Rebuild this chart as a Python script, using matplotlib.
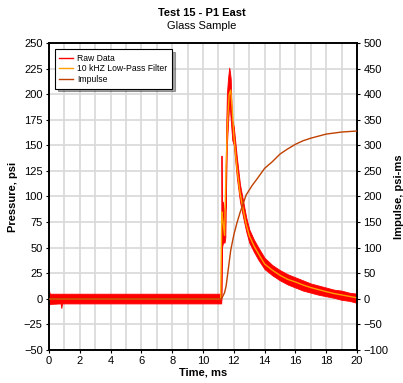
import numpy as np
import matplotlib
matplotlib.use('Agg')
import matplotlib.pyplot as plt
from matplotlib.lines import Line2D

plt.rcParams['font.family'] = ['Liberation Sans', 'DejaVu Sans']

# Filtro pasa-bajos 10 kHz (psi)
filt_t = [0, 11.15, 11.22, 11.3, 11.4, 11.5, 11.6, 11.7, 11.8, 11.9, 12.0, 12.2, 12.4, 12.6,
          12.8, 13.0, 13.3, 13.6, 14.0, 14.5, 15.0, 15.5, 16.0, 16.5, 17.0, 17.5, 18.0,
          18.5, 19.0, 19.5, 20.0]
filt_p = [0, 0, 85, 75, 62, 130, 175, 200, 204, 185, 160, 128, 104, 88,
          73, 62, 52, 44, 34, 28, 23, 19, 16.5, 13.5, 11, 9, 7,
          5.2, 3.8, 2.4, 1]

# Datos crudos: envolvente superior e inferior (psi)
raw_t = [0, 0.05, 0.75, 0.8, 0.85, 11.15, 11.18, 11.2, 11.23, 11.3, 11.4, 11.45, 11.5,
         11.55, 11.62, 11.7, 11.75, 11.8, 11.85, 11.9, 12.0, 12.2, 12.4, 12.6, 12.8, 13.0,
         13.3, 13.6, 14.0, 14.5, 15.0, 15.5, 16.0, 16.5, 17.0, 17.5, 18.0, 18.5, 19.0,
         19.5, 20.0]
raw_hi = [8, 5, 5, 5, 5, 5, 5, 140, 70, 95, 80, 90, 165,
          200, 215, 226, 222, 215, 190, 175, 168, 138, 112, 96, 80, 68,
          58, 50, 40, 33, 28, 24, 21, 18, 15, 13, 11, 9, 8,
          6, 5]
raw_lo = [-6, -5, -4.5, -9, -4.5, -4.5, -4.5, 0, 50, 55, 55, 60, 110,
          150, 170, 190, 185, 175, 165, 155, 150, 118, 95, 80, 66, 55,
          46, 38, 29, 23, 18, 14, 11, 8, 6, 4, 2.5, 1, -1,
          -2, -4]

# Impulso (psi-ms)
imp_t = [0, 11.2, 11.4, 11.5, 11.65, 11.8, 12.0, 12.2, 12.4, 12.8, 13.2, 13.5, 14.0,
         14.5, 15.0, 15.5, 16.0, 16.5, 17.0, 17.5, 18.0, 18.5, 19.0, 19.5, 20.0]
imp_v = [0, 0, 12, 25, 60, 95, 125, 148, 168, 203, 222, 234, 255,
         268, 283, 293, 302, 309, 314, 318, 322, 324, 326, 327, 328]

RED = '#ff0000'
ORANGE = '#ffa000'
BROWN = '#c04000'

fig = plt.figure(figsize=(4.03, 3.83), dpi=100)
ax = fig.add_axes([0.1216, 0.0862, 0.7643, 0.8015])
ax2 = ax.twinx()

ax.fill_between(raw_t, raw_lo, raw_hi, color=RED, lw=0.6, edgecolor=RED, zorder=2)
ax.plot(filt_t, filt_p, color=ORANGE, lw=1.0, zorder=3)
ax2.plot(imp_t, imp_v, color=BROWN, lw=1.0, zorder=3)

ax.set_xlim(0, 20)
ax.set_ylim(-50, 250)
ax2.set_ylim(-100, 500)
ax.set_xticks(np.arange(0, 21, 2))
ax.set_xticks(np.arange(0, 21, 1), minor=True)
ax.set_yticks(np.arange(-50, 251, 25))
ax2.set_yticks(np.arange(-100, 501, 50))
ax.grid(True, which='both', color='#d8d8d8', lw=1.2, zorder=0)
ax.set_axisbelow(True)

for a in (ax, ax2):
    a.tick_params(labelsize=8, length=2, direction='out', width=0.8, pad=2.5)
    for s in a.spines.values():
        s.set_linewidth(1.2)
ax.tick_params(which='minor', length=0)

ax.set_xlabel('Time, ms', fontsize=8, fontweight='bold', labelpad=1)
ax.set_ylabel('Pressure, psi', fontsize=8, fontweight='bold', labelpad=4)
ax2.set_ylabel('Impulse, psi-ms', fontsize=8, fontweight='bold', labelpad=4)

fig.text(0.5, 0.965, 'Test 15 - P1 East', ha='center', va='center', fontsize=8, fontweight='bold')
fig.text(0.5, 0.932, 'Glass Sample', ha='center', va='center', fontsize=8)

handles = [Line2D([], [], color=RED, lw=1.0),
           Line2D([], [], color=ORANGE, lw=1.0),
           Line2D([], [], color=BROWN, lw=1.0)]
leg = ax2.legend(handles, ['Raw Data', '10 kHZ Low-Pass Filter', 'Impulse'], loc='upper left',
                 fontsize=6.2, fancybox=False, shadow=True, edgecolor='black',
                 framealpha=1, handlelength=1.6, handletextpad=0.5, borderpad=0.5,
                 labelspacing=0.2, bbox_to_anchor=(0.005, 0.993))
leg.get_frame().set_linewidth(0.8)

fig.savefig('out.png', dpi=100)
